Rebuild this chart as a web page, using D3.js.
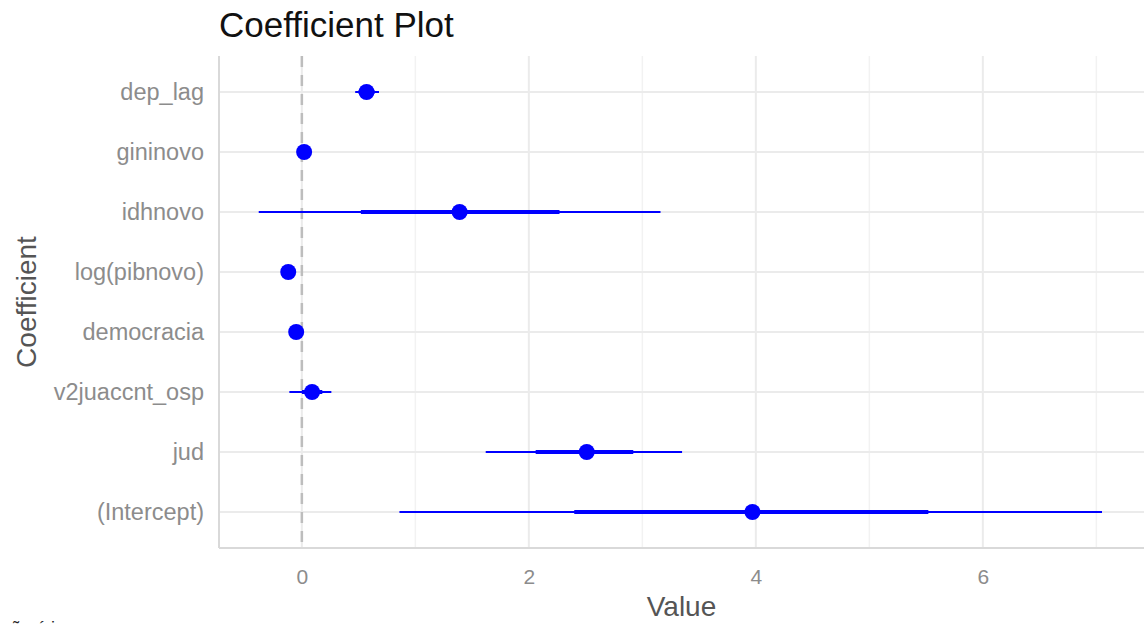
<!DOCTYPE html>
<html>
<head>
<meta charset="utf-8">
<script src="https://cdn.jsdelivr.net/npm/d3@7"></script>
<style>
  body { margin: 0; background: #fff; }
  svg { display: block; }
</style>
</head>
<body>
<svg id="svg" width="1144" height="624"></svg>
<script>
// coefficients, top to bottom as drawn
const terms = ["dep_lag", "gininovo", "idhnovo", "log(pibnovo)", "democracia", "v2juaccnt_osp", "jud", "(Intercept)"];
const estimate = [0.57, 0.02, 1.39, -0.12, -0.05, 0.09, 2.51, 3.97];
const innerLow = [0.50, 0.00, 0.52, -0.14, -0.07, 0.00, 2.06, 2.40];
const innerHigh = [0.64, 0.04, 2.27, -0.10, -0.03, 0.18, 2.92, 5.52];
const outerLow = [0.47, -0.01, -0.38, -0.15, -0.08, -0.11, 1.62, 0.86];
const outerHigh = [0.68, 0.05, 3.16, -0.09, -0.02, 0.26, 3.35, 7.05];
const xTicks = [0, 2, 4, 6];
const xMinor = [1, 3, 5, 7];

window.addEventListener('load', function() {

    const svg = d3.select("#svg")
        .attr("font-family", "'Liberation Sans', Arial, sans-serif");

    const left = 219, right = 1144, top = 56, bottom = 548;

    const x = d3.scaleLinear()
        .domain([-0.73, 7.42])
        .range([left, right]);

    const y = d3.scalePoint()
        .domain(terms)
        .range([top, bottom])
        .padding(0.6);

    const rows = terms.map((t, i) => ({
        term: t, est: estimate[i],
        lo1: innerLow[i], hi1: innerHigh[i],
        lo2: outerLow[i], hi2: outerHigh[i]
    }));

    // grid
    const grid = svg.append("g");
    grid.selectAll("line.minor")
        .data(xMinor)
        .enter().append("line")
        .attr("x1", d => x(d)).attr("x2", d => x(d))
        .attr("y1", top).attr("y2", bottom)
        .attr("stroke", "#f2f2f2").attr("stroke-width", 1.5);
    grid.selectAll("line.major")
        .data(xTicks)
        .enter().append("line")
        .attr("x1", d => x(d)).attr("x2", d => x(d))
        .attr("y1", top).attr("y2", bottom)
        .attr("stroke", "#ebebeb").attr("stroke-width", 2);
    grid.selectAll("line.h")
        .data(terms)
        .enter().append("line")
        .attr("x1", left).attr("x2", right)
        .attr("y1", d => y(d)).attr("y2", d => y(d))
        .attr("stroke", "#ebebeb").attr("stroke-width", 2);

    // axis lines
    svg.append("line")
        .attr("x1", left).attr("x2", left)
        .attr("y1", top).attr("y2", bottom)
        .attr("stroke", "#d9d9d9").attr("stroke-width", 2);
    svg.append("line")
        .attr("x1", left).attr("x2", right)
        .attr("y1", bottom).attr("y2", bottom)
        .attr("stroke", "#d9d9d9").attr("stroke-width", 2);

    // zero reference
    svg.append("line")
        .attr("x1", x(0)).attr("x2", x(0))
        .attr("y1", top).attr("y2", bottom)
        .attr("stroke", "#bdbdbd").attr("stroke-width", 2.5)
        .attr("stroke-dasharray", "11,8");

    // intervals and points
    const gs = svg.selectAll("g.coef")
        .data(rows)
        .enter().append("g");
    gs.append("line")
        .attr("x1", d => x(d.lo2)).attr("x2", d => x(d.hi2))
        .attr("y1", d => y(d.term)).attr("y2", d => y(d.term))
        .attr("stroke", "#0000ff").attr("stroke-width", 2);
    gs.append("line")
        .attr("x1", d => x(d.lo1)).attr("x2", d => x(d.hi1))
        .attr("y1", d => y(d.term)).attr("y2", d => y(d.term))
        .attr("stroke", "#0000ff").attr("stroke-width", 4);
    gs.append("circle")
        .attr("cx", d => x(d.est)).attr("cy", d => y(d.term))
        .attr("r", 8)
        .attr("fill", "#0000ff");

    // axes with d3, styled like ggplot theme_minimal
    const xAxis = svg.append("g")
        .attr("transform", `translate(0,${bottom})`)
        .call(d3.axisBottom(x).tickValues(xTicks).tickSize(0).tickPadding(21));
    xAxis.select(".domain").remove();
    xAxis.selectAll("text")
        .attr("font-size", 21).attr("fill", "#8c8c8c")
        .attr("font-family", "'Liberation Sans', Arial, sans-serif");

    const yAxis = svg.append("g")
        .attr("transform", `translate(${left},0)`)
        .call(d3.axisLeft(y).tickSize(0).tickPadding(15));
    yAxis.select(".domain").remove();
    yAxis.selectAll("text")
        .attr("font-size", 23.5).attr("fill", "#8c8c8c")
        .attr("font-family", "'Liberation Sans', Arial, sans-serif");

    // titles
    svg.append("text")
        .attr("x", left).attr("y", 37)
        .attr("font-size", 35).attr("fill", "#111")
        .text("Coefficient Plot");
    svg.append("text")
        .attr("x", (left + right) / 2).attr("y", 616)
        .attr("text-anchor", "middle")
        .attr("font-size", 28).attr("fill", "#555")
        .text("Value");
    svg.append("text")
        .attr("transform", `translate(36,${(top + bottom) / 2}) rotate(-90)`)
        .attr("text-anchor", "middle")
        .attr("font-size", 28).attr("fill", "#555")
        .text("Coefficient");

    // clipped caption fragment at the bottom edge
    svg.append("text")
        .attr("x", 2).attr("y", 634)
        .attr("font-size", 18).attr("fill", "#222")
        .text("ção é i");
});
</script>
</body>
</html>
